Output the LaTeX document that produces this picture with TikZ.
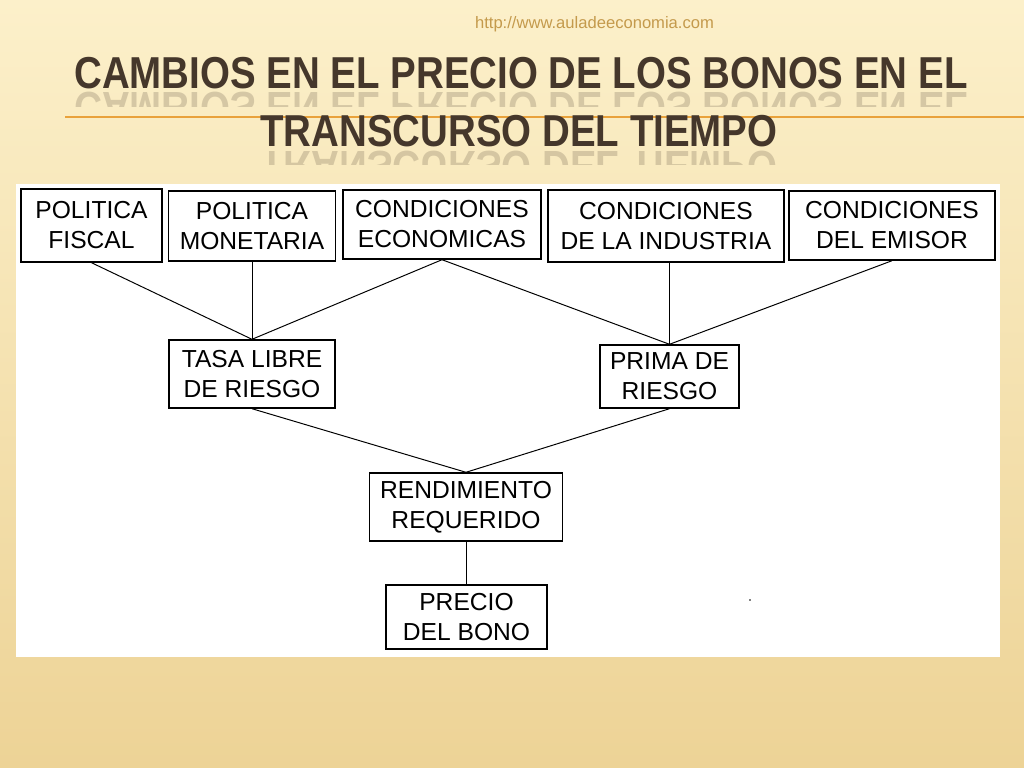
\documentclass[tikz,border=0pt]{standalone}
\usepackage{fontspec}
\setmainfont{Liberation Sans}
\newfontfamily\titulofont[FakeStretch=0.86]{Liberation Sans}
\definecolor{fondo}{HTML}{FCF0CA}
\definecolor{oro}{HTML}{EDD396}
\definecolor{titulo}{HTML}{45372B}
\definecolor{naranja}{HTML}{E9A23B}
\definecolor{enlace}{HTML}{C49A4C}

\begin{document}
\begin{tikzpicture}[x=0.025cm, y=-0.025cm]
\tikzset{caja/.style={draw, line width=1pt, fill=white, align=center, inner sep=0pt, font=\fontsize{17.5}{21.3}\selectfont}}
\tikzset{tit/.style={text=titulo, anchor=base, inner sep=0pt, font=\titulofont\bfseries\fontsize{31.8}{38}\selectfont}}
\tikzset{reflejo/.style={tit, yscale=-1, transform shape, opacity=0.2}}
\useasboundingbox (0,0) rectangle (1024,768);
\shade[top color=fondo, middle color=fondo, bottom color=oro] (0,0) rectangle (1024,768);
\fill[white] (16,184) rectangle (1000,657);
\draw[naranja, line width=1.4pt] (65,117) -- (1024,117);
\node[text=enlace, anchor=base, inner sep=0pt, font=\fontsize{11.8}{14}\selectfont] (url) at (594.5,29) {http://www.auladeeconomia.com};
\begin{scope}
\clip (0,92) rectangle (1024,107);
\node[reflejo] (refl1) at (521,93) {CAMBIOS EN EL PRECIO DE LOS BONOS EN EL};
\end{scope}
\begin{scope}
\clip (0,150) rectangle (1024,165);
\node[reflejo] (refl2) at (519,151) {TRANSCURSO DEL TIEMPO};
\end{scope}
\node[tit] (tit1) at (521,89) {CAMBIOS EN EL PRECIO DE LOS BONOS EN EL};
\node[tit] (tit2) at (519,147) {TRANSCURSO DEL TIEMPO};
\node[caja, minimum width=3.525cm, minimum height=1.825cm] (fiscal) at (91.5,225.5) {POLITICA\\FISCAL};
\node[caja, minimum width=4.175cm, minimum height=1.75cm] (monetaria) at (252,226) {POLITICA\\MONETARIA};
\node[caja, minimum width=4.95cm, minimum height=1.725cm] (economicas) at (442,224.5) {CONDICIONES\\ECONOMICAS};
\node[caja, minimum width=5.9cm, minimum height=1.8cm] (industria) at (666,226) {CONDICIONES\\DE LA INDUSTRIA};
\node[caja, minimum width=5.15cm, minimum height=1.725cm] (emisor) at (892,225.5) {CONDICIONES\\DEL EMISOR};
\node[caja, minimum width=4.15cm, minimum height=1.7cm] (tasa) at (252,374) {TASA LIBRE\\DE RIESGO};
\node[caja, minimum width=3.475cm, minimum height=1.575cm] (prima) at (669.5,376.5) {PRIMA DE\\RIESGO};
\node[caja, minimum width=4.825cm, minimum height=1.7cm] (rendimiento) at (466,507) {RENDIMIENTO\\REQUERIDO};
\node[caja, minimum width=4.025cm, minimum height=1.6cm] (precio) at (466.5,617) {PRECIO\\DEL BONO};
\draw[line width=0.7pt] (fiscal.south) -- (tasa.north);
\draw[line width=0.7pt] (monetaria.south) -- (tasa.north);
\draw[line width=0.7pt] (economicas.south) -- (tasa.north);
\draw[line width=0.7pt] (economicas.south) -- (prima.north);
\draw[line width=0.7pt] (industria.south -| prima.north) -- (prima.north);
\draw[line width=0.7pt] (emisor.south) -- (prima.north);
\draw[line width=0.7pt] (tasa.south) -- (rendimiento.north);
\draw[line width=0.7pt] (prima.south) -- (rendimiento.north);
\draw[line width=0.7pt] (rendimiento.south -| precio.north) -- (precio.north);
\fill (750,600) circle (0.6pt);
\end{tikzpicture}
\end{document}
